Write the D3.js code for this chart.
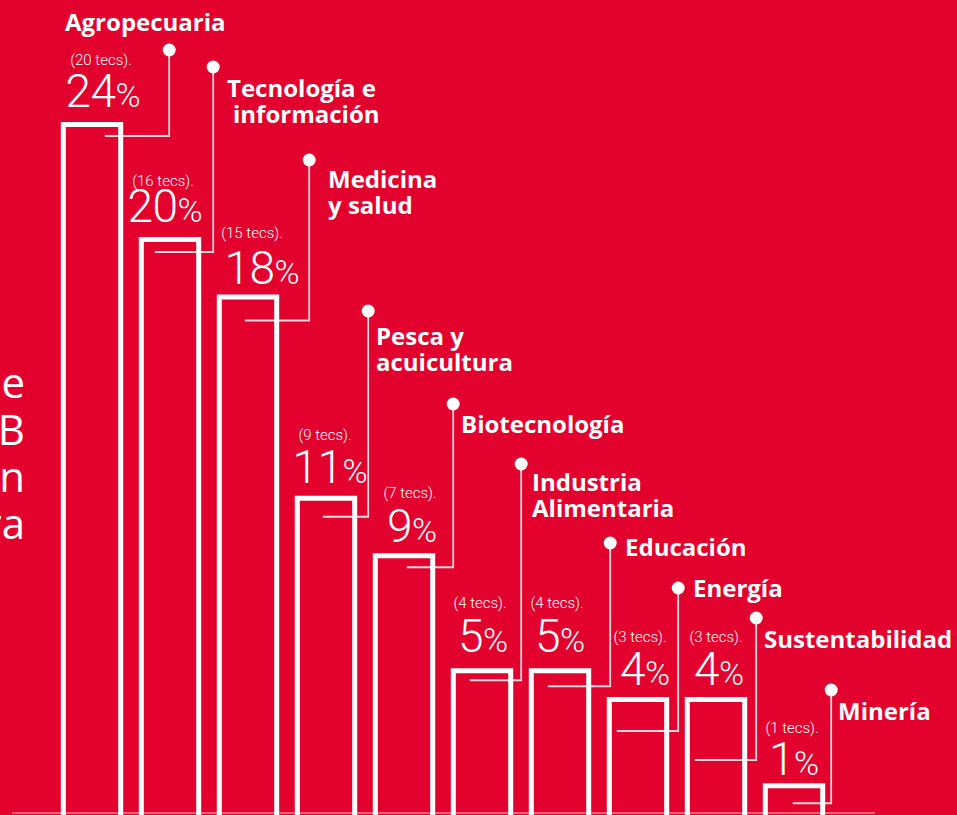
<!DOCTYPE html>
<html lang="es">

<head>
    <meta charset="UTF-8" />
    <title>Tecnologías por área</title>
    <script src="https://d3js.org/d3.v7.min.js"></script>
    <style>
        html, body { margin: 0; padding: 0; background: #e3022d; overflow: hidden; }
        svg { display: block; }
    </style>
</head>

<body>
    <svg id="chart"></svg>
</body>

<script>
    // data
    var categories = ["Agropecuaria", "Tecnología e información", "Medicina y salud", "Pesca y acuicultura",
        "Biotecnología", "Industria Alimentaria", "Educación", "Energía", "Sustentabilidad", "Minería"];
    var labelLines = [["Agropecuaria"], ["Tecnología e", "información"], ["Medicina", "y salud"],
        ["Pesca y", "acuicultura"], ["Biotecnología"], ["Industria", "Alimentaria"], ["Educación"],
        ["Energía"], ["Sustentabilidad"], ["Minería"]];
    var percents = [24, 20, 18, 11, 9, 5, 5, 4, 4, 1];
    var techCounts = [20, 16, 15, 9, 7, 4, 4, 3, 3, 1];
    var sideText = ["e", "B", "n", "ra"];

    // callout layout (offsets from the bar / absolute label spots)
    var callouts = [
        { dotDx: 46, dotY: 50, lineDy: 14, lineDx: 44, lx: 65, ly: 31, l2dx: 0, pctDx: 11, pctDy: -15, tecsDx: 9, tecsDy: -42 },
        { dotDx: 12, dotY: 67, lineDy: 15, lineDx: 16, lx: 227, ly: 97, l2dx: 6, pctDx: -5, pctDy: -15, tecsDx: -7, tecsDy: -36 },
        { dotDx: 30, dotY: 160, lineDy: 26, lineDx: 28, lx: 328, ly: 188, l2dx: 0, pctDx: 14, pctDy: -11, tecsDx: 4, tecsDy: -46 },
        { dotDx: 11, dotY: 311, lineDy: 21, lineDx: 28, lx: 376, ly: 345, l2dx: 0, pctDx: 4, pctDy: -13, tecsDx: -1, tecsDy: -43 },
        { dotDx: 18, dotY: 404, lineDy: 14, lineDx: 34, lx: 461, ly: 433, l2dx: 0, pctDx: 8, pctDy: -11, tecsDx: 6, tecsDy: -44 },
        { dotDx: 8, dotY: 464, lineDy: 12, lineDx: 19, lx: 532, ly: 491, l2dx: 0, pctDx: 1, pctDy: -16, tecsDx: -2, tecsDy: -44 },
        { dotDx: 19, dotY: 543, lineDy: 18, lineDx: 19, lx: 625, ly: 556, l2dx: 0, pctDx: 0, pctDy: -16, tecsDx: -3, tecsDy: -44 },
        { dotDx: 9, dotY: 588, lineDy: 34, lineDx: 10, lx: 693, ly: 597, l2dx: 0, pctDx: 7, pctDy: -12, tecsDx: 2, tecsDy: -43 },
        { dotDx: 9, dotY: 618, lineDy: 63, lineDx: 10, lx: 764, ly: 648, l2dx: 0, pctDx: 3, pctDy: -12, tecsDx: 0, tecsDy: -43 },
        { dotDx: 6, dotY: 690, lineDy: 20, lineDx: 30, lx: 838, ly: 720, l2dx: 0, pctDx: 0, pctDy: -8, tecsDx: -2, tecsDy: -42 }
    ];

    var width = 957;
    var height = 815;
    var strokeW = 5;

    var svg = d3.select("#chart")
        .attr("width", width)
        .attr("height", height);

    svg.append("rect")
        .attr("width", width)
        .attr("height", height)
        .attr("fill", "#e3022d");

    var x = d3.scaleBand()
        .domain(categories)
        .range([53, 833])
        .paddingInner(0.2)
        .paddingOuter(0.1);

    var y = d3.scaleLinear()
        .domain([0, 24])
        .range([812, 122]);

    var rows = categories.map(function (c, i) {
        return { cat: c, pct: percents[i], n: techCounts[i], lines: labelLines[i], co: callouts[i] };
    });

    // cut-off title on the left edge
    svg.append("g").selectAll("text")
        .data(sideText)
        .enter()
        .append("text")
        .attr("x", 25)
        .attr("y", (d, i) => 398 + i * 47)
        .attr("text-anchor", "end")
        .attr("fill", "white")
        .style("font-family", "'Open Sans', sans-serif")
        .style("font-weight", 400)
        .style("font-size", "42px")
        .text((d) => d);

    // faint baseline
    svg.append("line")
        .attr("x1", 12).attr("x2", 875)
        .attr("y1", 813).attr("y2", 813)
        .attr("stroke", "white")
        .attr("stroke-opacity", 0.5)
        .attr("stroke-width", 1.5);

    // bars (outlined, running off the bottom)
    svg.append("g").selectAll("rect")
        .data(rows)
        .enter()
        .append("rect")
        .attr("x", (d) => x(d.cat) + strokeW / 2)
        .attr("y", (d) => y(d.pct) + strokeW / 2)
        .attr("width", x.bandwidth() - strokeW)
        .attr("height", (d) => height + 20 - y(d.pct))
        .attr("fill", "none")
        .attr("stroke", "white")
        .attr("stroke-width", strokeW);

    // callout connectors
    var co = svg.append("g").selectAll("g")
        .data(rows)
        .enter()
        .append("g");

    co.append("path")
        .attr("d", function (d) {
            var dx = x(d.cat) + x.bandwidth() + d.co.dotDx;
            var ly = y(d.pct) + d.co.lineDy;
            return "M" + dx + "," + d.co.dotY + "V" + ly + "H" + (x(d.cat) + d.co.lineDx);
        })
        .attr("fill", "none")
        .attr("stroke", "white")
        .attr("stroke-opacity", 0.85)
        .attr("stroke-width", 1.8);

    co.append("circle")
        .attr("cx", (d) => x(d.cat) + x.bandwidth() + d.co.dotDx)
        .attr("cy", (d) => d.co.dotY)
        .attr("r", 6.5)
        .attr("fill", "white");

    // category labels
    co.append("text")
        .attr("fill", "white")
        .style("font-family", "'Open Sans', sans-serif")
        .style("font-weight", 700)
        .style("font-size", "24px")
        .selectAll("tspan")
        .data((d) => d.lines.map((t, j) => ({ t: t, j: j, co: d.co })))
        .enter()
        .append("tspan")
        .attr("x", (d) => d.co.lx + (d.j > 0 ? d.co.l2dx : 0))
        .attr("y", (d) => d.co.ly + d.j * 26)
        .text((d) => d.t);

    // percentage labels
    var pct = co.append("text")
        .attr("x", (d) => x(d.cat) + x.bandwidth() / 2 + d.co.pctDx)
        .attr("y", (d) => y(d.pct) + d.co.pctDy)
        .attr("text-anchor", "middle")
        .attr("fill", "white")
        .style("font-family", "Roboto, sans-serif")
        .style("font-weight", 300);
    pct.append("tspan")
        .style("font-size", "46px")
        .style("letter-spacing", "-0.5px")
        .text((d) => d.pct);
    pct.append("tspan")
        .style("font-size", "34px")
        .text("%");

    // tech counts
    co.append("text")
        .attr("x", (d) => x(d.cat) + x.bandwidth() / 2 + d.co.tecsDx)
        .attr("y", (d) => y(d.pct) + d.co.pctDy + d.co.tecsDy)
        .attr("text-anchor", "middle")
        .attr("fill", "white")
        .style("font-family", "Roboto, sans-serif")
        .style("font-weight", 300)
        .style("font-size", "15px")
        .text((d) => "(" + d.n + " tecs).");
</script>

</html>
